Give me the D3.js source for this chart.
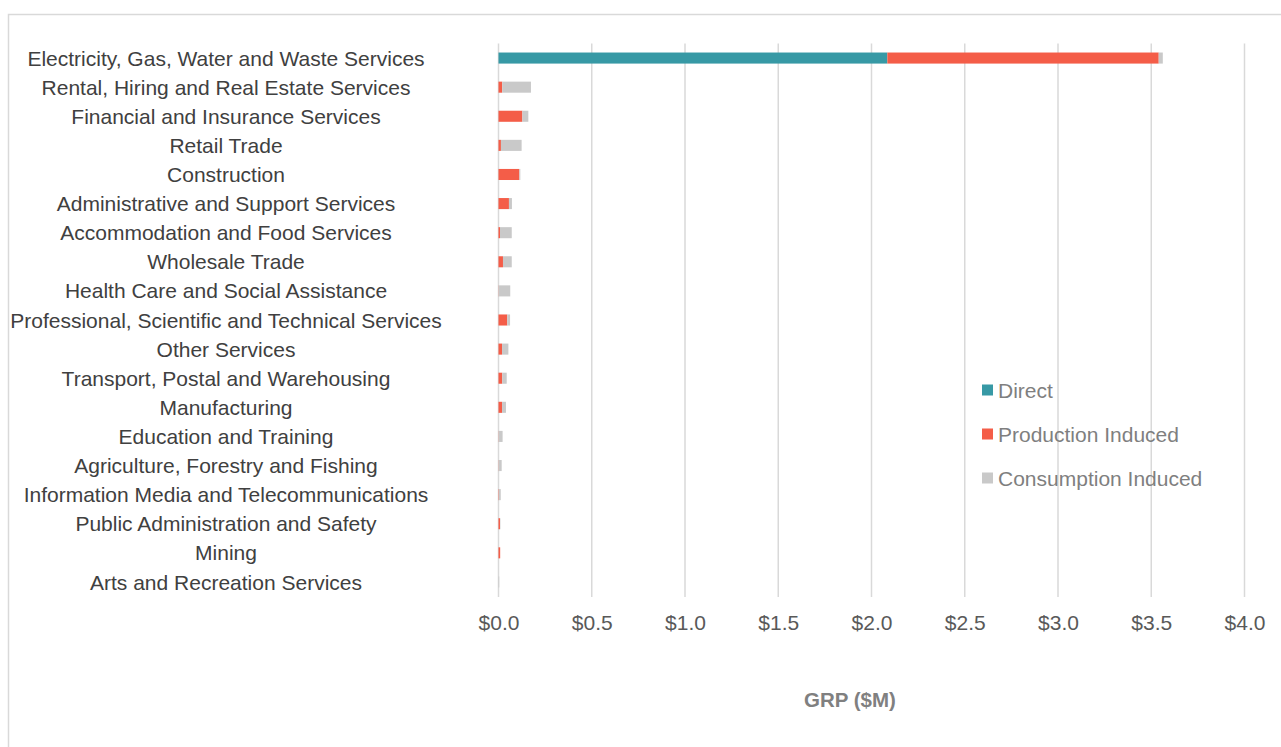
<!DOCTYPE html>
<html>
<head>
<meta charset="utf-8">
<script src="https://cdn.jsdelivr.net/npm/d3@7"></script>
<style>
  body { margin: 0; background: #fff; }
  text { font-family: "Liberation Sans", Arial, sans-serif; }
</style>
</head>
<body>
<script>
// Industry categories, top to bottom
var categories = [
  "Electricity, Gas, Water and Waste Services",
  "Rental, Hiring and Real Estate Services",
  "Financial and Insurance Services",
  "Retail Trade",
  "Construction",
  "Administrative and Support Services",
  "Accommodation and Food Services",
  "Wholesale Trade",
  "Health Care and Social Assistance",
  "Professional, Scientific and Technical Services",
  "Other Services",
  "Transport, Postal and Warehousing",
  "Manufacturing",
  "Education and Training",
  "Agriculture, Forestry and Fishing",
  "Information Media and Telecommunications",
  "Public Administration and Safety",
  "Mining",
  "Arts and Recreation Services"
];

// GRP ($M) by impact type
var direct      = [2.085, 0, 0, 0, 0, 0, 0, 0, 0, 0, 0, 0, 0, 0, 0, 0, 0, 0, 0];
var production  = [1.455, 0.020, 0.128, 0.013, 0.112, 0.056, 0.008, 0.024, 0.001, 0.047, 0.019, 0.020, 0.019, 0.001, 0.001, 0.002, 0.008, 0.009, 0.000];
var consumption = [0.022, 0.154, 0.032, 0.111, 0.005, 0.016, 0.063, 0.047, 0.062, 0.015, 0.034, 0.024, 0.021, 0.021, 0.016, 0.010, 0.002, 0.000, 0.004];

var seriesNames = ["Direct", "Production Induced", "Consumption Induced"];
var xTicks = [0, 0.5, 1, 1.5, 2, 2.5, 3, 3.5, 4];

var width = 1281, height = 747;
var fontSize = 21;
var color = d3.scaleOrdinal().domain(seriesNames).range(["#3799a5", "#f45d48", "#c9c9c9"]);

var svg = d3.select("body").append("svg")
            .attr("width", width)
            .attr("height", height);

// chart frame
svg.append("rect")
   .attr("x", 8.5).attr("y", 14.5)
   .attr("width", 1300).attr("height", 800)
   .attr("fill", "#fff")
   .attr("stroke", "#d9d9d9")
   .attr("stroke-width", 1.5);

var xScale = d3.scaleLinear().domain([0, 4]).range([498.5, 1244.5]);
var yScale = d3.scaleBand().domain(categories).range([43.5, 596.5]).paddingInner(0.62).paddingOuter(0.31);

// gridlines
svg.append("g")
   .selectAll("line")
   .data(xTicks)
   .enter()
   .append("line")
   .attr("x1", d => xScale(d)).attr("x2", d => xScale(d))
   .attr("y1", 43.5).attr("y2", 597)
   .attr("stroke", "#d9d9d9")
   .attr("stroke-width", 1.5);

// stack the series
var rows = categories.map((c, i) => ({
  name: c,
  "Direct": direct[i],
  "Production Induced": production[i],
  "Consumption Induced": consumption[i]
}));
var stacked = d3.stack().keys(seriesNames)(rows);

svg.append("g")
   .selectAll("g")
   .data(stacked)
   .enter()
   .append("g")
   .attr("fill", d => color(d.key))
   .selectAll("rect")
   .data(d => d)
   .enter()
   .append("rect")
   .attr("x", d => xScale(d[0]))
   .attr("width", d => Math.max(0, xScale(d[1]) - xScale(d[0])))
   .attr("y", d => yScale(d.data.name))
   .attr("height", yScale.bandwidth());

// category labels
svg.append("g")
   .selectAll("text")
   .data(categories)
   .enter()
   .append("text")
   .attr("x", 226)
   .attr("y", d => yScale(d) + yScale.bandwidth() / 2)
   .attr("dy", "0.36em")
   .attr("text-anchor", "middle")
   .attr("font-size", fontSize)
   .attr("fill", "#404040")
   .text(d => d);

// x axis labels
var xAxis = d3.axisBottom(xScale)
              .tickValues(xTicks)
              .tickSize(0)
              .tickPadding(0)
              .tickFormat(d => "$" + d3.format(".1f")(d));

var gx = svg.append("g")
            .attr("transform", "translate(0,615)")
            .call(xAxis);
gx.select(".domain").remove();
gx.selectAll("text")
  .attr("font-size", fontSize)
  .attr("fill", "#595959")
  .attr("font-family", "Liberation Sans, Arial, sans-serif");

// axis title
svg.append("text")
   .attr("x", 850)
   .attr("y", 707)
   .attr("text-anchor", "middle")
   .attr("font-size", 20.5)
   .attr("font-weight", "bold")
   .attr("fill", "#808080")
   .text("GRP ($M)");

// legend
var legend = svg.append("g")
                .selectAll("g")
                .data(seriesNames)
                .enter()
                .append("g")
                .attr("transform", (d, i) => "translate(982," + (390 + i * 44) + ")");

legend.append("rect")
      .attr("x", 0).attr("y", -5.5)
      .attr("width", 11).attr("height", 11)
      .attr("fill", d => color(d));

legend.append("text")
      .attr("x", 16)
      .attr("dy", "0.36em")
      .attr("font-size", fontSize)
      .attr("fill", "#7f7f7f")
      .text(d => d);
</script>
</body>
</html>
